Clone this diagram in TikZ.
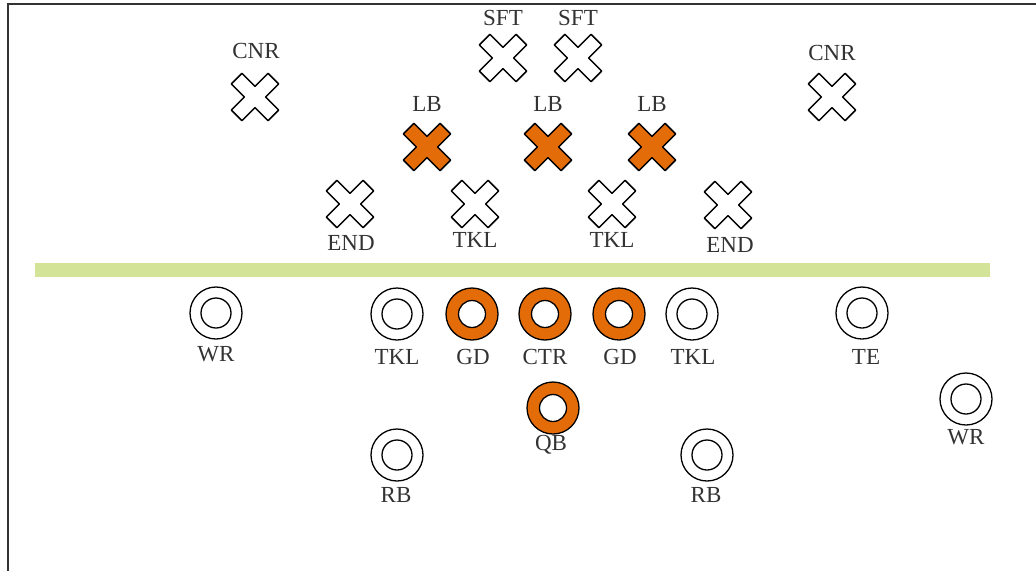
\documentclass[tikz,border=0pt]{standalone}
\usepackage{fontspec}
\setmainfont{Liberation Serif}
\definecolor{teamorange}{RGB}{227,108,9}
\definecolor{scrimmage}{RGB}{211,227,151}
\tikzset{
  every picture/.style={x=1pt,y=-1pt},
  lbl/.style={inner sep=0pt,font=\fontsize{23}{26}\selectfont,text=black!80},
  xmark/.pic={
    \path[pic actions,rotate=45,line join=round]
      (-7.5,26) -- (7.5,26) -- (7.5,7.5) -- (26,7.5) -- (26,-7.5) -- (7.5,-7.5) -- (7.5,-26)
      -- (-7.5,-26) -- (-7.5,-7.5) -- (-26,-7.5) -- (-26,7.5) -- (-7.5,7.5) -- cycle;
  },
  defw/.style={draw=black,line width=1.5pt,fill=white},
  defo/.style={draw=black,line width=1.5pt,fill=teamorange},
  ringw/.style={circle,draw=black,line width=1.3pt,fill=white,minimum size=52pt,inner sep=0pt,
    path picture={\draw[line width=1.3pt] (path picture bounding box.center) circle (15pt);}},
  ringo/.style={circle,draw=black,line width=1.3pt,fill=teamorange,minimum size=52pt,inner sep=0pt,
    path picture={\draw[line width=1.3pt,fill=white] (path picture bounding box.center) circle (13.5pt);}},
}
\begin{document}
\begin{tikzpicture}
\useasboundingbox (0,0) rectangle (1036,571);
% page frame
\draw[line width=1.5pt,black!80] (8,571) -- (8,4) -- (1036,4);

% line of scrimmage
\fill[scrimmage] (35,263) rectangle (990,277);

% defence
\pic[defw] at (503,58) {xmark};
\pic[defw] at (578,58) {xmark};
\node[lbl] (sft1) at (503,18) {SFT};
\node[lbl] (sft2) at (578,18) {SFT};

\pic[defw] at (255,97) {xmark};
\pic[defw] at (832,97) {xmark};
\node[lbl] (cnr1) at (256,51) {CNR};
\node[lbl] (cnr2) at (832,53) {CNR};

\pic[defo] at (427,147) {xmark};
\pic[defo] at (548,147) {xmark};
\pic[defo] at (652,147) {xmark};
\node[lbl] (lb1) at (427,104) {LB};
\node[lbl] (lb2) at (548,104) {LB};
\node[lbl] (lb3) at (652,104) {LB};

\pic[defw] at (350,204) {xmark};
\pic[defw] at (475,204) {xmark};
\pic[defw] at (612,204) {xmark};
\pic[defw] at (728,205) {xmark};
\node[lbl] (end1) at (351,243) {END};
\node[lbl] (dt1) at (475,240) {TKL};
\node[lbl] (dt2) at (612,240) {TKL};
\node[lbl] (end2) at (730,245) {END};

% offence
\node[ringw] (wr1) at (216,313) {};
\node[ringw] (ot1) at (397,314) {};
\node[ringo] (og1) at (472,314) {};
\node[ringo] (ctr) at (545,314) {};
\node[ringo] (og2) at (619,314) {};
\node[ringw] (ot2) at (692,314) {};
\node[ringw] (te) at (862,313) {};
\node[ringw] (wr2) at (966,399) {};
\node[ringo] (qb) at (553,408) {};
\node[ringw] (rb1) at (397,455) {};
\node[ringw] (rb2) at (707,455) {};

\node[lbl] (wr1-l) at (216,354) {WR};
\node[lbl] (ot1-l) at (397,357) {TKL};
\node[lbl] (og1-l) at (473,357) {GD};
\node[lbl] (ctr-l) at (545,357) {CTR};
\node[lbl] (og2-l) at (620,357) {GD};
\node[lbl] (ot2-l) at (693,357) {TKL};
\node[lbl] (te-l) at (866,357) {TE};
\node[lbl] (wr2-l) at (966,437) {WR};
\node[lbl] (qb-l) at (551,445) {QB};
\node[lbl] (rb1-l) at (396,495) {RB};
\node[lbl] (rb2-l) at (706,495) {RB};
\end{tikzpicture}
\end{document}
